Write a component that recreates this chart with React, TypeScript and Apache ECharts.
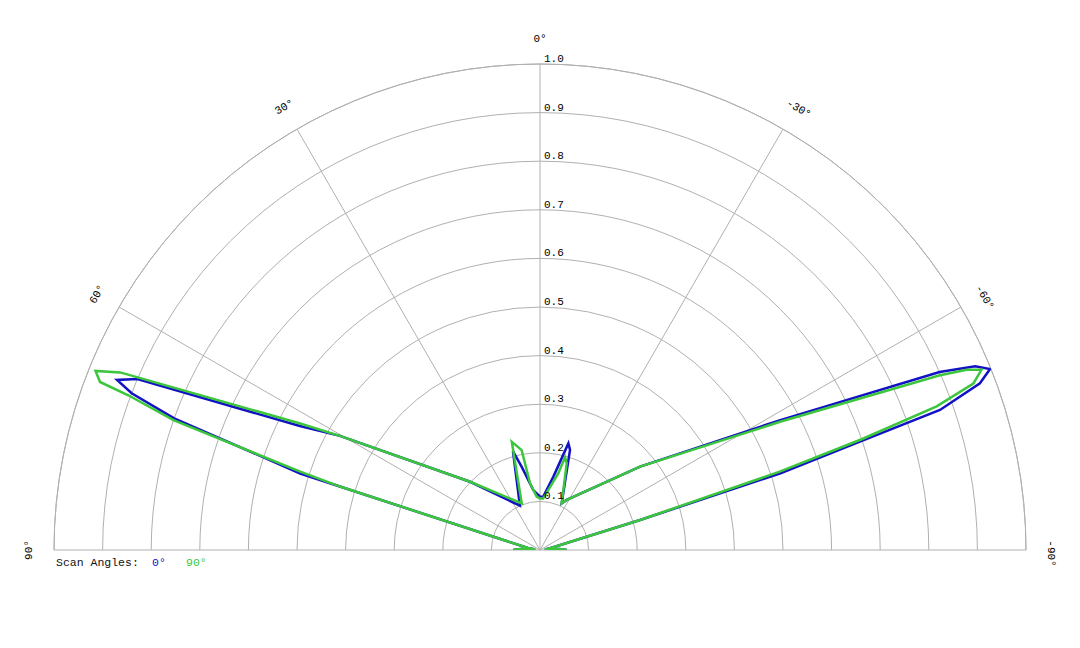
import React, { useEffect, useRef } from "react";
import * as echarts from "echarts";

// Radial ticks (normalised gain) and angular ticks (degrees from broadside)
const RADIUS_TICKS = [0.1, 0.2, 0.3, 0.4, 0.5, 0.6, 0.7, 0.8, 0.9, 1.0];
const ANGLE_TICKS = [-90, -60, -30, 0, 30, 60, 90];
const SERIES_NAMES = ["0°", "90°"];
const LEGEND_TITLE = "Scan Angles:";

// Scan angle 0° (blue): pattern vertices, angle (deg) and radius
const BLUE_ANGLES = [
  90, 87, 84, 80.5, 72.4, 72.3, 70.2, 69.0, 68.1, 67.0, 62.7, 60.3, 45.7, 24.4, 15.3,
  12.4, 6.4, 0, -3.5, -10.3, -14.9, -16.7, -24.9, -28.1, -50.2, -61.6, -66.0,
  -67.1, -68.1, -69.25, -70.7, -71.3, -72.3, -73.3, -80, -84, -87, -90,
];
const BLUE_R = [
  0.055, 0.04, 0.01, 0.025, 0.432, 0.518, 0.8, 0.9, 0.938, 0.9, 0.556, 0.474, 0.201, 0.1,
  0.211, 0.175, 0.124, 0.11, 0.11, 0.153, 0.227, 0.215, 0.106, 0.117, 0.268, 0.562,
  0.9, 0.972, 0.998, 0.968, 0.872, 0.695, 0.518, 0.215, 0.021, 0.01, 0.04, 0.055,
];

// Scan angle 90° (green)
const GREEN_ANGLES = [
  90, 87, 84, 80.5, 72.4, 71.9, 70.5, 69.4, 69.1, 68.06, 67.07, 62.2, 60.3, 45.7, 21.4,
  14.6, 10.4, 8.5, 3.6, 0, -3.5, -13.4, -15.1, -17.1, -24.9, -28.1, -50.2, -61.9,
  -66.4, -67.1, -67.8, -69.0, -70.1, -71.0, -71.9, -73.3, -80, -84, -87, -90,
];
const GREEN_R = [
  0.055, 0.04, 0.01, 0.025, 0.43, 0.519, 0.8, 0.905, 0.969, 0.986, 0.938, 0.558, 0.474,
  0.201, 0.103, 0.23, 0.209, 0.139, 0.11, 0.106, 0.106, 0.162, 0.1975, 0.187, 0.106,
  0.117, 0.268, 0.56, 0.898, 0.953, 0.981, 0.955, 0.868, 0.7, 0.519, 0.215, 0.021,
  0.01, 0.04, 0.055,
];

const BLUE = "#1212c4";
const GREEN = "#3cc63c";
const GRID = "#b0b0b0";
const TEXT = "#000000";
const FONT = "'Liberation Mono', 'DejaVu Sans Mono', monospace";

export default function App() {
  const ref = useRef<HTMLDivElement>(null);

  useEffect(() => {
    if (!ref.current) return;
    const chart = echarts.init(ref.current, null, { renderer: "svg" });

    const labelBase = {
      show: true,
      fontFamily: FONT,
      fontSize: 11,
      color: TEXT,
      opacity: 1,
      textBorderWidth: 0,
    };

    chart.setOption({
      animation: false,
      backgroundColor: "#ffffff",
      polar: { center: [540, 550], radius: 486 },
      angleAxis: {
        type: "value",
        min: -90,
        max: 90,
        interval: 30,
        startAngle: 0,
        endAngle: 180,
        clockwise: false,
        axisLine: { show: true, lineStyle: { color: GRID, width: 1 } },
        axisTick: { show: false },
        axisLabel: { show: false },
        splitLine: { show: true, lineStyle: { color: GRID, width: 1 } },
      },
      radiusAxis: {
        type: "value",
        min: 0,
        max: 1,
        interval: 0.1,
        axisLine: { show: false },
        axisTick: { show: false },
        axisLabel: { show: false },
        splitLine: { show: true, lineStyle: { color: GRID, width: 1 } },
      },
      graphic: [
        {
          type: "text",
          left: 56,
          top: 556,
          style: { text: LEGEND_TITLE, font: `11.5px ${FONT}`, fill: "#111" },
        },
        {
          type: "text",
          left: 152,
          top: 556,
          style: { text: SERIES_NAMES[0], font: `11.5px ${FONT}`, fill: BLUE },
        },
        {
          type: "text",
          left: 186,
          top: 556,
          style: { text: SERIES_NAMES[1], font: `11.5px ${FONT}`, fill: GREEN },
        },
      ],
      series: [
        {
          name: SERIES_NAMES[0],
          type: "line",
          coordinateSystem: "polar",
          showSymbol: false,
          symbol: "none",
          clip: false,
          lineStyle: { color: BLUE, width: 2.5, join: "miter" },
          data: BLUE_R.map((r, i) => [r, BLUE_ANGLES[i]]),
          z: 3,
        },
        {
          name: SERIES_NAMES[1],
          type: "line",
          coordinateSystem: "polar",
          showSymbol: false,
          symbol: "none",
          clip: false,
          lineStyle: { color: GREEN, width: 2.5, join: "miter" },
          data: GREEN_R.map((r, i) => [r, GREEN_ANGLES[i]]),
          z: 4,
        },
        {
          name: "radiusLabels",
          type: "scatter",
          coordinateSystem: "polar",
          silent: true,
          clip: false,
          symbolSize: 0,
          itemStyle: { color: TEXT, opacity: 1 },
          data: RADIUS_TICKS.map((r) => [r, 0]),
          label: {
            ...labelBase,
            position: [4, -5],
            align: "left",
            verticalAlign: "middle",
            formatter: (p: any) => Number(p.value[0]).toFixed(1),
          },
          z: 5,
        },
        {
          name: "angleLabels",
          type: "scatter",
          coordinateSystem: "polar",
          silent: true,
          clip: false,
          symbolSize: 0,
          itemStyle: { color: TEXT, opacity: 1 },
          data: ANGLE_TICKS.map((a) => ({
            value: [1.052, a],
            label: { rotate: a, offset: a < 0 ? [3.5, 0] : [0, 0] },
          })),
          label: {
            ...labelBase,
            position: "inside",
            align: "center",
            verticalAlign: "middle",
            formatter: (p: any) => `${p.value[1]}°`,
          },
          z: 5,
        },
      ],
    });

    return () => chart.dispose();
  }, []);

  return (
    <div
      ref={ref}
      style={{ position: "fixed", left: 0, top: 0, width: 1080, height: 648, background: "#fff" }}
    />
  );
}
